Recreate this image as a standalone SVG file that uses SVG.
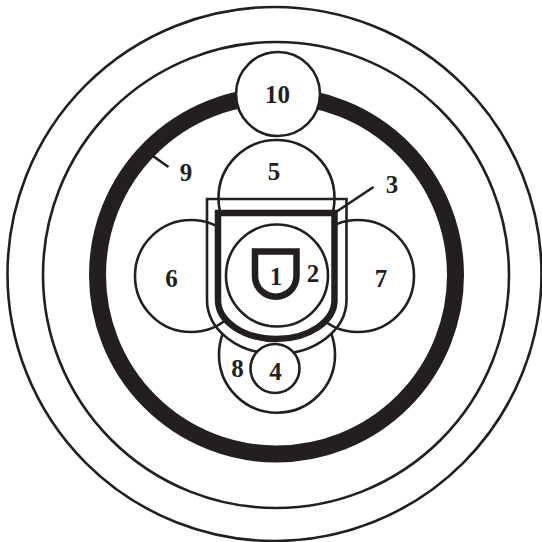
<svg xmlns="http://www.w3.org/2000/svg" width="542" height="542" viewBox="0 0 542 542">
<style>
.l{fill:none;stroke:#231f20;stroke-width:2.6}
.w{fill:#fff;stroke:#231f20;stroke-width:2.6}
.t{font-family:"Liberation Serif",serif;font-size:25px;font-weight:bold;fill:#231f20;text-anchor:middle}
</style>
<rect width="542" height="542" fill="#fff"/>
<g id="rings">
<circle class="l" cx="274.5" cy="274" r="267"/>
<circle class="l" cx="276" cy="275" r="233"/>
<circle id="n9" cx="276.5" cy="275" r="179" fill="none" stroke="#231f20" stroke-width="17"/>
</g>
<g id="n10"><circle class="w" cx="278" cy="94" r="42"/><text class="t" x="277.5" y="103">10</text></g>
<g id="n8"><circle class="w" cx="277" cy="354.7" r="58"/></g>
<g id="n3"><path class="w" d="M207,199 H346.5 V300 A69.75,54 0 0 1 207,300 Z"/></g>
<g id="n5"><circle class="l" cx="276.5" cy="198" r="58"/><text class="t" x="274" y="180">5</text></g>
<g id="n6"><circle class="l" cx="191" cy="276" r="56"/><text class="t" x="171.5" y="286.5">6</text></g>
<g id="n7"><circle class="l" cx="358" cy="276" r="56"/><text class="t" x="381" y="286.5">7</text></g>
<g id="thickU"><path d="M218,213 H334.5 V300 A58.25,39 0 0 1 218,300 Z" fill="#fff" stroke="#231f20" stroke-width="6.5"/></g>
<g id="n2"><circle class="l" cx="277" cy="275.5" r="51"/><text class="t" x="313" y="281.5">2</text></g>
<g id="n1"><path d="M255,251.5 H296.5 V276 A20.75,20.75 0 0 1 255,276 Z" fill="none" stroke="#231f20" stroke-width="6.5"/><text class="t" x="276" y="285">1</text></g>
<g id="n4"><circle class="w" cx="275" cy="368.5" r="24.5"/><text class="t" x="275.5" y="380">4</text></g>
<text class="t" x="237.5" y="377">8</text>
<text class="t" x="186" y="181">9</text>
<text class="t" x="392" y="193">3</text>
<g id="connectors">
<line class="l" x1="151.5" y1="155" x2="168.5" y2="167"/>
<line class="l" x1="373.5" y1="187" x2="336" y2="212"/>
</g>
</svg>
